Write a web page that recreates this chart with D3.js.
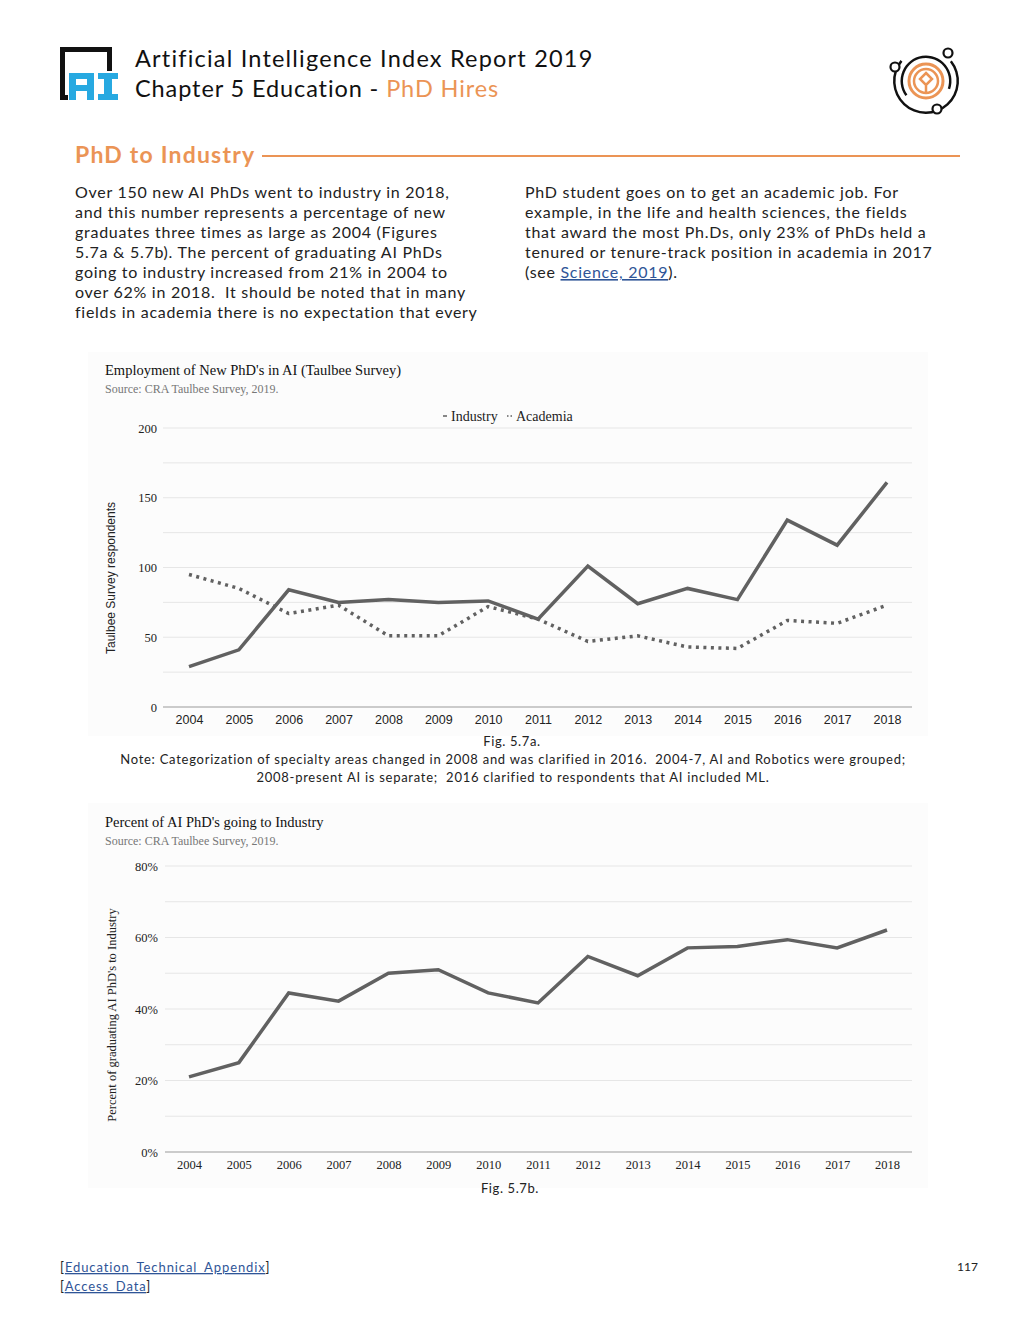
<!DOCTYPE html>
<html>
<head>
<meta charset="utf-8">
<script src="https://cdn.jsdelivr.net/npm/d3@7"></script>
<style>
  body { margin: 0; background: #fff; }
  svg { display: block; }
  text { white-space: pre; }
  .sans { font-family: Lato, "Noto Sans", sans-serif; }
  .serif { font-family: "Liberation Serif", "Times New Roman", serif; }
  .arial { font-family: "Liberation Sans", Arial, sans-serif; }
</style>
</head>
<body>
<div id="page"><svg></svg></div>
<script>
// data
var years = [2004, 2005, 2006, 2007, 2008, 2009, 2010, 2011, 2012, 2013, 2014, 2015, 2016, 2017, 2018];
var industry = [29, 41, 84, 75, 77, 75, 76, 63, 101, 74, 85, 77, 134, 116, 161];
var academia = [95, 85, 67, 73, 51, 51, 72, 63, 47, 51, 43, 42, 62, 60, 73];
var pctIndustry = [21, 25, 44.5, 42.2, 50, 51, 44.5, 41.7, 54.7, 49.3, 57.1, 57.5, 59.4, 57.1, 62.1];
var countTicks = [0, 50, 100, 150, 200];
var pctTicks = [0, 20, 40, 60, 80];

var leftText = [
  "Over 150 new AI PhDs went to industry in 2018,",
  "and this number represents a percentage of new",
  "graduates three times as large as 2004 (Figures",
  "5.7a & 5.7b). The percent of graduating AI PhDs",
  "going to industry increased from 21% in 2004 to",
  "over 62% in 2018.  It should be noted that in many",
  "fields in academia there is no expectation that every"
];
var rightText = [
  "PhD student goes on to get an academic job. For",
  "example, in the life and health sciences, the fields",
  "that award the most Ph.Ds, only 23% of PhDs held a",
  "tenured or tenure-track position in academia in 2017"
];

var width = 1020, height = 1320;
var orange = "#eb9455", lineCol = "#616161", link = "#2f5597";

var svg = d3.select("#page svg").attr("width", width).attr("height", height);

// ---- header ----
var logo = svg.append("g");
logo.append("rect").attr("x", 60).attr("y", 47).attr("width", 52).attr("height", 5).attr("fill", "#111");
logo.append("rect").attr("x", 60).attr("y", 47).attr("width", 5).attr("height", 53).attr("fill", "#111");
logo.append("rect").attr("x", 107).attr("y", 47).attr("width", 5).attr("height", 24).attr("fill", "#111");
logo.append("rect").attr("x", 60).attr("y", 95).attr("width", 8).attr("height", 5).attr("fill", "#111");
var blue = "#27a9e1";
[[69, 73, 25, 6], [69, 73, 7, 27], [87, 73, 7, 27], [69, 85, 25, 6],
 [98, 73, 20, 6], [104, 73, 8, 27], [98, 94, 20, 6]].forEach(function (r) {
  logo.append("rect").attr("x", r[0]).attr("y", r[1]).attr("width", r[2]).attr("height", r[3]).attr("fill", blue);
});

svg.append("text").attr("class", "sans").attr("x", 135).attr("y", 67)
  .attr("font-size", 23.5).attr("letter-spacing", 1.2).attr("fill", "#111")
  .text("Artificial Intelligence Index Report 2019");
var h2 = svg.append("text").attr("class", "sans").attr("x", 135).attr("y", 97)
  .attr("font-size", 23.5).attr("letter-spacing", 0.9).attr("fill", "#111");
h2.append("tspan").text("Chapter 5 Education - ");
h2.append("tspan").attr("fill", orange).text("PhD Hires");

// right emblem
var em = svg.append("g").attr("transform", "translate(926,81)");
em.append("circle").attr("r", 17).attr("fill", "none").attr("stroke", orange).attr("stroke-width", 3);
em.append("circle").attr("r", 12).attr("fill", "none").attr("stroke", orange).attr("stroke-width", 2.5);
em.append("path").attr("d", "M0,-8 L6,-2 L0,4 L-6,-2 Z M0,4 L0,12").attr("fill", "none")
  .attr("stroke", orange).attr("stroke-width", 2.5);
var arc = d3.arc();
em.append("path").attr("d", arc({innerRadius: 23, outerRadius: 25.5, startAngle: -2.2, endAngle: 1.9})).attr("fill", "#111");
em.append("path").attr("d", arc({innerRadius: 30.5, outerRadius: 33, startAngle: 0.9, endAngle: 5.4})).attr("fill", "#111");
[[-31, -14], [22, -28], [11, 28]].forEach(function (p) {
  em.append("circle").attr("cx", p[0]).attr("cy", p[1]).attr("r", 4.5)
    .attr("fill", "#fff").attr("stroke", "#111").attr("stroke-width", 2.2);
});

// ---- section title ----
svg.append("text").attr("class", "sans").attr("x", 75).attr("y", 163)
  .attr("font-size", 23).attr("font-weight", 700).attr("fill", orange).attr("letter-spacing", 1.2)
  .text("PhD to Industry");
svg.append("line").attr("x1", 262).attr("x2", 960).attr("y1", 156).attr("y2", 156)
  .attr("stroke", orange).attr("stroke-width", 2);

// ---- body text ----
leftText.forEach(function (t, i) {
  svg.append("text").attr("class", "sans").attr("x", 75).attr("y", 198 + i * 20)
    .attr("font-size", 16).attr("letter-spacing", 0.72).attr("fill", "#222").text(t);
});
rightText.forEach(function (t, i) {
  svg.append("text").attr("class", "sans").attr("x", 525).attr("y", 198 + i * 20)
    .attr("font-size", 16).attr("letter-spacing", 0.72).attr("fill", "#222").text(t);
});
var last = svg.append("text").attr("class", "sans").attr("x", 525).attr("y", 278)
  .attr("font-size", 16).attr("letter-spacing", 0.72).attr("fill", "#222");
last.append("tspan").text("(see ");
last.append("tspan").attr("fill", link).attr("text-decoration", "underline").text("Science, 2019");
last.append("tspan").text(").");

// ---- chart helpers ----
var x = d3.scalePoint().domain(years).range([189, 887]);

function panel(y0, h) {
  svg.append("rect").attr("x", 88).attr("y", y0).attr("width", 840).attr("height", h)
    .attr("fill", "#fcfcfc");
}

function grid(y, ticks, x0) {
  var g = svg.append("g");
  d3.range(ticks[0], ticks[ticks.length - 1] + 1, (ticks[1] - ticks[0]) / 2).forEach(function (v) {
    g.append("line").attr("x1", x0).attr("x2", 912).attr("y1", y(v)).attr("y2", y(v))
      .attr("stroke", v === 0 ? "#9a9a9a" : "#e6e6e6").attr("stroke-width", v === 0 ? 1.2 : 1);
  });
}

// ---- chart 1 ----
panel(352, 384);
svg.append("text").attr("class", "serif").attr("x", 105).attr("y", 375)
  .attr("font-size", 14.5).attr("fill", "#111").text("Employment of New PhD's in AI (Taulbee Survey)");
svg.append("text").attr("class", "serif").attr("x", 105).attr("y", 393)
  .attr("font-size", 12).attr("fill", "#777").text("Source: CRA Taulbee Survey, 2019.");

var y1 = d3.scaleLinear().domain([0, 200]).range([707, 428]);
grid(y1, countTicks, 163);

var yAx1 = svg.append("g").attr("transform", "translate(163,0)")
  .call(d3.axisLeft(y1).tickValues(countTicks).tickSize(0).tickPadding(6));
yAx1.select(".domain").remove();
yAx1.selectAll("text").attr("class", "serif").attr("font-size", 12.5).attr("fill", "#222");

var xAx1 = svg.append("g").attr("transform", "translate(0,707)")
  .call(d3.axisBottom(x).tickSize(0).tickPadding(8));
xAx1.select(".domain").remove();
xAx1.selectAll("text").attr("class", "arial").attr("font-size", 12.5).attr("fill", "#222");

svg.append("text").attr("class", "arial").attr("transform", "translate(115,578) rotate(-90)")
  .attr("text-anchor", "middle").attr("font-size", 12).attr("fill", "#222")
  .text("Taulbee Survey respondents");

var line1 = d3.line().x(function (d, i) { return x(years[i]); }).y(function (d) { return y1(d); });
svg.append("path").datum(academia).attr("d", line1).attr("fill", "none")
  .attr("stroke", lineCol).attr("stroke-width", 3.5).attr("stroke-dasharray", "3,4.5");
svg.append("path").datum(industry).attr("d", line1).attr("fill", "none")
  .attr("stroke", lineCol).attr("stroke-width", 3.5).attr("stroke-linejoin", "miter");

// legend
var lg = svg.append("g").attr("class", "serif").attr("font-size", 14).attr("fill", "#222");
lg.append("line").attr("x1", 443).attr("x2", 447).attr("y1", 416).attr("y2", 416).attr("stroke", lineCol).attr("stroke-width", 1.5);
lg.append("text").attr("x", 451).attr("y", 421).text("Industry");
lg.append("line").attr("x1", 507).attr("x2", 513).attr("y1", 416).attr("y2", 416).attr("stroke", lineCol)
  .attr("stroke-width", 1.5).attr("stroke-dasharray", "1.5,2");
lg.append("text").attr("x", 516).attr("y", 421).text("Academia");

svg.append("text").attr("class", "sans").attr("x", 512).attr("y", 746).attr("text-anchor", "middle")
  .attr("font-size", 13).attr("letter-spacing", 0.6).attr("fill", "#222").text("Fig. 5.7a.");
svg.append("text").attr("class", "sans").attr("x", 513).attr("y", 764).attr("text-anchor", "middle")
  .attr("font-size", 13).attr("letter-spacing", 0.74).attr("fill", "#222")
  .text("Note: Categorization of specialty areas changed in 2008 and was clarified in 2016.  2004-7, AI and Robotics were grouped;");
svg.append("text").attr("class", "sans").attr("x", 513).attr("y", 782).attr("text-anchor", "middle")
  .attr("font-size", 13).attr("letter-spacing", 0.74).attr("fill", "#222")
  .text("2008-present AI is separate;  2016 clarified to respondents that AI included ML.");

// ---- chart 2 ----
panel(803, 385);
svg.append("text").attr("class", "serif").attr("x", 105).attr("y", 827)
  .attr("font-size", 14.5).attr("fill", "#111").text("Percent of AI PhD's going to Industry");
svg.append("text").attr("class", "serif").attr("x", 105).attr("y", 845)
  .attr("font-size", 12).attr("fill", "#777").text("Source: CRA Taulbee Survey, 2019.");

var y2 = d3.scaleLinear().domain([0, 80]).range([1152, 866]);
grid(y2, pctTicks, 165);

var yAx2 = svg.append("g").attr("transform", "translate(165,0)")
  .call(d3.axisLeft(y2).tickValues(pctTicks).tickSize(0).tickPadding(7).tickFormat(function (d) { return d + "%"; }));
yAx2.select(".domain").remove();
yAx2.selectAll("text").attr("class", "serif").attr("font-size", 12.5).attr("fill", "#222");

var xAx2 = svg.append("g").attr("transform", "translate(0,1152)")
  .call(d3.axisBottom(x).tickSize(0).tickPadding(8));
xAx2.select(".domain").remove();
xAx2.selectAll("text").attr("class", "serif").attr("font-size", 12.5).attr("fill", "#222");

svg.append("text").attr("class", "serif").attr("transform", "translate(116,1015) rotate(-90)")
  .attr("text-anchor", "middle").attr("font-size", 12.5).attr("fill", "#222")
  .text("Percent of graduating AI PhD's to Industry");

var line2 = d3.line().x(function (d, i) { return x(years[i]); }).y(function (d) { return y2(d); });
svg.append("path").datum(pctIndustry).attr("d", line2).attr("fill", "none")
  .attr("stroke", lineCol).attr("stroke-width", 3.5);

svg.append("text").attr("class", "sans").attr("x", 510).attr("y", 1193).attr("text-anchor", "middle")
  .attr("font-size", 13).attr("letter-spacing", 0.6).attr("fill", "#222").text("Fig. 5.7b.");

// ---- footer ----
function footLink(y, label) {
  var t = svg.append("text").attr("class", "sans").attr("x", 60).attr("y", y)
    .attr("font-size", 13).attr("letter-spacing", 0.9).attr("fill", "#222");
  t.append("tspan").text("[");
  t.append("tspan").attr("fill", link).attr("text-decoration", "underline").text(label);
  t.append("tspan").text("]");
}
footLink(1272, "Education_Technical_Appendix");
footLink(1291, "Access_Data");
svg.append("text").attr("class", "sans").attr("x", 978).attr("y", 1271).attr("text-anchor", "end")
  .attr("font-size", 12).attr("fill", "#222").text("117");
</script>
</body>
</html>
